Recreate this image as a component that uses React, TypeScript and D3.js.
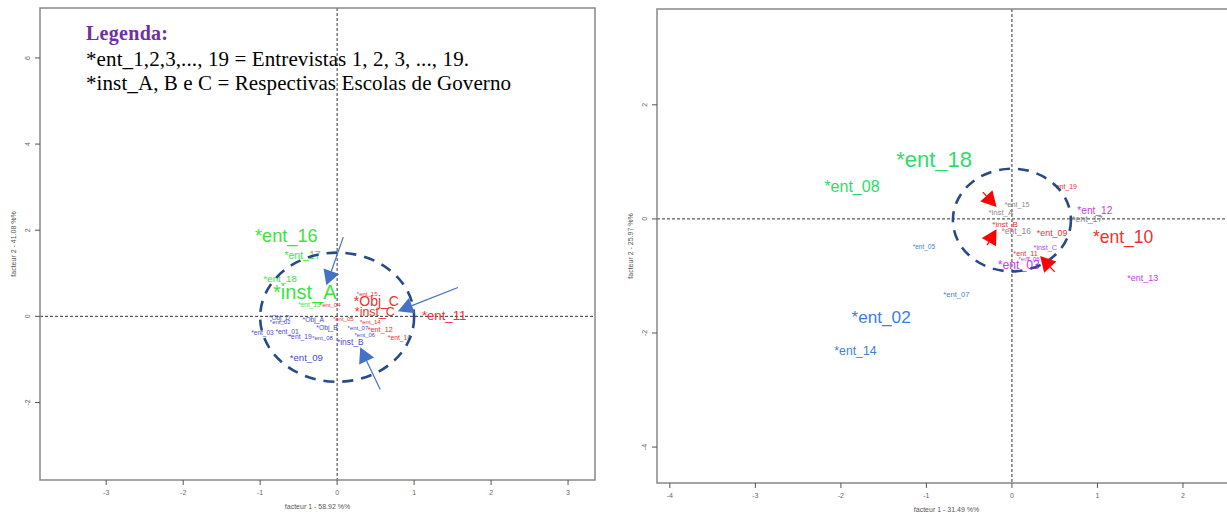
import * as React from 'react';
import * as d3 from 'd3';

// correspondence analysis results
interface Pt {
  name: string;
  x: number;
  y: number;
  group: string;
  contrib: number;
}

interface Arrow {
  x1: number;
  y1: number;
  x2: number;
  y2: number;
}

const leftPoints: Pt[] = [
  { name: '*ent_16', x: -0.66, y: 1.86, group: 'A', contrib: 0.76 },
  { name: '*ent_17', x: -0.45, y: 1.42, group: 'A', contrib: 0.28 },
  { name: '*ent_18', x: -0.74, y: 0.88, group: 'A', contrib: 0.23 },
  { name: '*inst_A', x: -0.42, y: 0.56, group: 'A', contrib: 0.88 },
  { name: '*ent_13', x: -0.36, y: 0.28, group: 'A', contrib: 0.03 },
  { name: '*ent_04', x: -0.09, y: 0.26, group: 'C', contrib: 0.0 },
  { name: '*ent_15', x: 0.39, y: 0.51, group: 'C', contrib: 0.0 },
  { name: '*Obj_C', x: 0.51, y: 0.35, group: 'C', contrib: 0.5 },
  { name: '*inst_C', x: 0.49, y: 0.09, group: 'C', contrib: 0.4 },
  { name: '*ent_11', x: 1.39, y: 0.02, group: 'C', contrib: 0.45 },
  { name: '*ent_05', x: 0.08, y: -0.05, group: 'C', contrib: 0.0 },
  { name: '*ent_14', x: 0.43, y: -0.14, group: 'C', contrib: 0.0 },
  { name: '*ent_12', x: 0.56, y: -0.3, group: 'C', contrib: 0.08 },
  { name: '*ent_10', x: 0.81, y: -0.49, group: 'C', contrib: 0.05 },
  { name: '*Obj_D', x: -0.75, y: -0.02, group: 'B', contrib: 0.03 },
  { name: '*ent_02', x: -0.74, y: -0.14, group: 'B', contrib: 0.0 },
  { name: '*ent_03', x: -0.97, y: -0.37, group: 'B', contrib: 0.03 },
  { name: '*ent_01', x: -0.65, y: -0.35, group: 'B', contrib: 0.05 },
  { name: '*ent_19', x: -0.48, y: -0.47, group: 'B', contrib: 0.05 },
  { name: '*ent_08', x: -0.19, y: -0.51, group: 'B', contrib: 0.0 },
  { name: '*Obj_A', x: -0.31, y: -0.07, group: 'B', contrib: 0.05 },
  { name: '*Obj_B', x: -0.13, y: -0.26, group: 'B', contrib: 0.05 },
  { name: '*ent_07', x: 0.27, y: -0.28, group: 'B', contrib: 0.0 },
  { name: '*ent_06', x: 0.36, y: -0.44, group: 'B', contrib: 0.0 },
  { name: '*inst_B', x: 0.17, y: -0.6, group: 'B', contrib: 0.15 },
  { name: '*ent_09', x: -0.4, y: -0.95, group: 'B', contrib: 0.23 },
];

const rightPoints: Pt[] = [
  { name: '*ent_18', x: -0.91, y: 1.05, group: 'G', contrib: 1.0 },
  { name: '*ent_08', x: -1.87, y: 0.58, group: 'G', contrib: 0.63 },
  { name: '*ent_05', x: -1.03, y: -0.49, group: 'B', contrib: 0.03 },
  { name: '*ent_07', x: -0.65, y: -1.33, group: 'B', contrib: 0.1 },
  { name: '*ent_02', x: -1.53, y: -1.72, group: 'B', contrib: 0.7 },
  { name: '*ent_14', x: -1.83, y: -2.32, group: 'B', contrib: 0.39 },
  { name: '*ent_15', x: 0.06, y: 0.25, group: 'N', contrib: 0.08 },
  { name: '*inst_A', x: -0.13, y: 0.12, group: 'N', contrib: 0.11 },
  { name: '*ent_16', x: 0.05, y: -0.21, group: 'N', contrib: 0.16 },
  { name: '*ent_17', x: 0.88, y: 0.0, group: 'N', contrib: 0.18 },
  { name: '*inst_B', x: -0.08, y: -0.09, group: 'R', contrib: 0.13 },
  { name: '*ent_19', x: 0.62, y: 0.56, group: 'R', contrib: 0.06 },
  { name: '*ent_09', x: 0.47, y: -0.25, group: 'R', contrib: 0.18 },
  { name: '*ent_11', x: 0.16, y: -0.6, group: 'R', contrib: 0.08 },
  { name: '*ent_10', x: 1.3, y: -0.32, group: 'R', contrib: 0.72 },
  { name: '*ent_12', x: 0.97, y: 0.14, group: 'M', contrib: 0.26 },
  { name: '*inst_C', x: 0.39, y: -0.51, group: 'M', contrib: 0.08 },
  { name: '*ent_06', x: 0.2, y: -0.7, group: 'M', contrib: 0.01 },
  { name: '*ent_03', x: 0.08, y: -0.81, group: 'M', contrib: 0.39 },
  { name: '*ent_13', x: 1.53, y: -1.04, group: 'M', contrib: 0.19 },
];

const leftArrows: Arrow[] = [
  { x1: 0.08, y1: 1.84, x2: -0.14, y2: 0.72 },
  { x1: 1.57, y1: 0.67, x2: 0.79, y2: 0.12 },
  { x1: 0.56, y1: -1.7, x2: 0.3, y2: -0.72 },
];

const rightArrows: Arrow[] = [
  { x1: -0.34, y1: 0.47, x2: -0.18, y2: 0.21 },
  { x1: -0.29, y1: -0.46, x2: -0.18, y2: -0.18 },
  { x1: 0.5, y1: -0.93, x2: 0.33, y2: -0.65 },
];

const leftXTicks = [-3, -2, -1, 0, 1, 2, 3];
const leftYTicks = [-2, 0, 2, 4, 6];
const rightXTicks = [-4, -3, -2, -1, 0, 1, 2];
const rightYTicks = [-4, -2, 0, 2];

const legendTitle = 'Legenda:';
const legendLines = [
  '*ent_1,2,3,..., 19 = Entrevistas 1, 2, 3, ..., 19.',
  '*inst_A, B e C = Respectivas Escolas de Governo',
];
const legendWidths = [383, 425];

const leftColours: Record<string, string> = { A: '#3ee23e', B: '#4a4ad2', C: '#ee3030' };
const rightColours: Record<string, string> = {
  G: '#2fdc6a', B: '#3a7fdc', N: '#8a8a8a', R: '#ee3030', M: '#c040ee',
};

const sizeScale = d3.scaleLinear().domain([0, 1]).range([6, 22]);

function ArrowMark(props: { a: Arrow; xs: any; ys: any; colour: string; head: number; lw: number }) {
  const { a, xs, ys, colour, head, lw } = props;
  const x1 = xs(a.x1), y1 = ys(a.y1), x2 = xs(a.x2), y2 = ys(a.y2);
  const ang = Math.atan2(y2 - y1, x2 - x1);
  const bx = x2 - head * Math.cos(ang), by = y2 - head * Math.sin(ang);
  const w = head * 0.55;
  const pts = [
    [x2, y2],
    [bx + w * Math.sin(ang), by - w * Math.cos(ang)],
    [bx - w * Math.sin(ang), by + w * Math.cos(ang)],
  ];
  return <g>
    <line x1={x1} y1={y1} x2={bx} y2={by} stroke={colour} strokeWidth={lw} />
    <polygon points={pts.map(p => p.join(',')).join(' ')} fill={colour} />
  </g>;
}

function Panel(props: {
  box: [number, number, number, number];
  xDom: [number, number];
  yDom: [number, number];
  xTicks: number[];
  yTicks: number[];
  xTitle: string;
  yTitle: string;
  points: Pt[];
  colours: Record<string, string>;
  ellipse: [number, number, number, number];
  arrows: Arrow[];
  arrowColour: string;
  head: number;
  lw: number;
  clipId: string;
}) {
  const [l, t, r, b] = props.box;
  const xs = d3.scaleLinear().domain(props.xDom).range([l, r]);
  const ys = d3.scaleLinear().domain(props.yDom).range([b, t]);
  const [ecx, ecy, erx, ery] = props.ellipse;
  const tickCol = '#555';
  return <g fontFamily="Liberation Sans, Arial, sans-serif">
    <clipPath id={props.clipId}><rect x={l} y={t} width={r - l} height={b - t} /></clipPath>
    <g clipPath={`url(#${props.clipId})`}>
      <line x1={xs(0)} x2={xs(0)} y1={t} y2={b} stroke="#333" strokeWidth={1} strokeDasharray="3,2" />
      <line x1={l} x2={r} y1={ys(0)} y2={ys(0)} stroke="#333" strokeWidth={1} strokeDasharray="3,2" />
      {props.points.map((p, i) => <text key={i} x={xs(p.x)} y={ys(p.y)} textAnchor="middle"
        dominantBaseline="central" fontSize={sizeScale(p.contrib)} fill={props.colours[p.group]}>{p.name}</text>)}
      <ellipse cx={xs(ecx)} cy={ys(ecy)} rx={xs(ecx + erx) - xs(ecx)} ry={ys(ecy) - ys(ecy + ery)}
        fill="none" stroke="#284a88" strokeWidth={2.6} strokeDasharray="11,8" />
      {props.arrows.map((a, i) => <ArrowMark key={i} a={a} xs={xs} ys={ys} colour={props.arrowColour}
        head={props.head} lw={props.lw} />)}
    </g>
    <rect x={l} y={t} width={r - l} height={b - t} fill="none" stroke="#888" strokeWidth={1.5} />
    {props.xTicks.map(v => <g key={v}>
      <line x1={xs(v)} x2={xs(v)} y1={b} y2={b + 5} stroke={tickCol} strokeWidth={1} />
      <text x={xs(v)} y={b + 15} fontSize={7} fill="#666" textAnchor="middle">{v}</text>
    </g>)}
    {props.yTicks.map(v => <g key={v}>
      <line x1={l - 5} x2={l} y1={ys(v)} y2={ys(v)} stroke={tickCol} strokeWidth={1} />
      <text transform={`translate(${l - 10},${ys(v)}) rotate(-90)`} fontSize={7} fill="#666"
        textAnchor="middle">{v}</text>
    </g>)}
    <text x={(l + r) / 2} y={b + 29} fontSize={7} fill="#555" textAnchor="middle">{props.xTitle}</text>
    <text transform={`translate(${l - 24},${(t + b) / 2}) rotate(-90)`} fontSize={7} fill="#555"
      textAnchor="middle">{props.yTitle}</text>
  </g>;
}

export default function App() {
  return <svg width={1227} height={516} style={{ position: 'absolute', left: 0, top: 0, background: '#fff' }}>
    <rect width={1227} height={516} fill="#fff" />
    <Panel box={[40, 8, 595, 480]} xDom={[-3.86, 3.35]} yDom={[-3.8, 7.16]}
      xTicks={leftXTicks} yTicks={leftYTicks}
      xTitle="facteur  1  - 58.92 %%" yTitle="facteur  2  - 41.08 %%"
      points={leftPoints} colours={leftColours} ellipse={[0, -0.02, 1.0, 1.5]}
      arrows={leftArrows} arrowColour="#4472c4" head={15} lw={1.2} clipId="clipL" />
    <Panel box={[657, 9, 1236, 483]} xDom={[-4.15, 2.62]} yDom={[-4.63, 3.68]}
      xTicks={rightXTicks} yTicks={rightYTicks}
      xTitle="facteur  1  - 31.49 %%" yTitle="facteur  2  - 25.97 %%"
      points={rightPoints} colours={rightColours} ellipse={[0, -0.02, 0.69, 0.9]}
      arrows={rightArrows} arrowColour="#ff0000" head={15} lw={1.2} clipId="clipR" />
    <g fontFamily="Liberation Serif, Times New Roman, serif">
      <text x={86} y={40} fontSize={20} fontWeight="bold" fill="#7030a0" textLength={82}
        lengthAdjust="spacing">{legendTitle}</text>
      {legendLines.map((s, i) => <text key={i} x={86} y={66 + i * 24} fontSize={21} fill="#000"
        textLength={legendWidths[i]} lengthAdjust="spacing">{s}</text>)}
    </g>
  </svg>;
}
